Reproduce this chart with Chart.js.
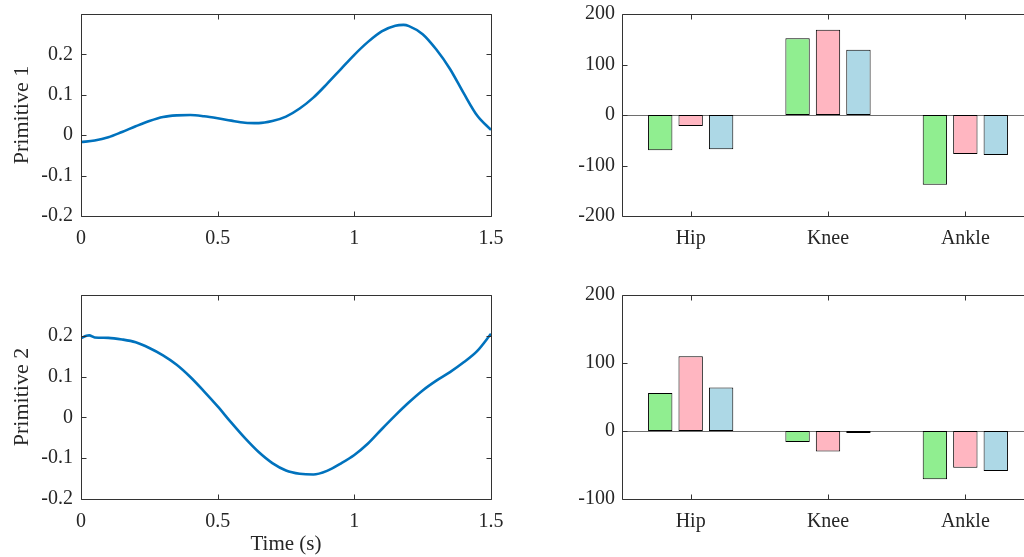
<!DOCTYPE html>
<html>
<head>
<meta charset="utf-8">
<script src="https://cdn.jsdelivr.net/npm/chart.js@4.4.1/dist/chart.umd.min.js"></script>
<style>
  html, body { margin: 0; padding: 0; background: #fff; overflow: hidden; width: 1024px; height: 557px; }
  .cell { position: absolute; overflow: hidden; }
  canvas { display: block; }
</style>
</head>
<body>
<div class="cell" style="left:0;top:0;width:512px;height:260px"><canvas id="p1Line" width="512" height="260"></canvas></div>
<div class="cell" style="left:0;top:280px;width:512px;height:277px"><canvas id="p2Line" width="512" height="277"></canvas></div>
<!-- the bar axes run on past the right edge of the page, so the cells clip them -->
<div class="cell" style="left:560px;top:0;width:464px;height:260px"><canvas id="p1Bar" width="490" height="260"></canvas></div>
<div class="cell" style="left:560px;top:280px;width:464px;height:277px"><canvas id="p2Bar" width="490" height="277"></canvas></div>
<script>
// ---------- data ----------
const timeP1 = [0, 0.05, 0.10, 0.15, 0.20, 0.25, 0.30, 0.35, 0.40, 0.45, 0.50, 0.55, 0.60, 0.65, 0.70, 0.75,
  0.80, 0.85, 0.90, 0.95, 1.00, 1.05, 1.10, 1.15, 1.18, 1.20, 1.25, 1.30, 1.35, 1.40, 1.45, 1.50];
const primitive1 = [-0.017, -0.013, -0.005, 0.008, 0.022, 0.035, 0.045, 0.049, 0.050, 0.047, 0.042, 0.036, 0.031, 0.030, 0.035, 0.046,
  0.066, 0.093, 0.127, 0.163, 0.199, 0.231, 0.257, 0.271, 0.273, 0.270, 0.250, 0.212, 0.164, 0.104, 0.048, 0.013];

const timeP2 = [0, 0.02, 0.03, 0.05, 0.10, 0.15, 0.20, 0.25, 0.30, 0.35, 0.40, 0.45, 0.50, 0.55, 0.60, 0.65, 0.70, 0.75,
  0.80, 0.85, 0.90, 0.95, 1.00, 1.05, 1.10, 1.15, 1.20, 1.25, 1.30, 1.35, 1.40, 1.45, 1.50];
const primitive2 = [0.194, 0.200, 0.201, 0.196, 0.195, 0.191, 0.184, 0.170, 0.152, 0.129, 0.099, 0.064, 0.027, -0.013, -0.051, -0.085, -0.112, -0.130,
  -0.138, -0.140, -0.131, -0.113, -0.092, -0.064, -0.029, 0.005, 0.037, 0.066, 0.090, 0.111, 0.135, 0.163, 0.205];

const joints = ['Hip', 'Knee', 'Ankle'];
// three weight sets per primitive
const p1Green = [-70, 152, -138];
const p1Pink  = [-22, 169, -77];
const p1Blue  = [-68, 129, -79];
const p2Green = [56, -16, -71];
const p2Pink  = [110, -30, -54];
const p2Blue  = [64, -3, -59];

const lineTicksX = [0, 0.5, 1, 1.5];

// ---------- style ----------
const FONT = 'Liberation Serif';
const TXT = '#262626';
const AXIS = '#333333';
const LINE_BLUE = '#0072BD';
const BAR_COLORS = ['#90EE90', '#FFB6C1', '#ADD8E6'];

// axes box with inward ticks on all four sides, taken from the scale extents
const boxPlugin = {
  id: 'box',
  afterDraw(chart) {
    const { ctx, scales } = chart;
    const x = scales.x, y = scales.y;
    const L = Math.round(x.left) + 0.5, R = Math.round(x.right) + 0.5;
    const T = Math.round(y.top) + 0.5, B = Math.round(y.bottom) + 0.5;
    const len = 5;
    ctx.save();
    ctx.strokeStyle = AXIS;
    ctx.lineWidth = 1;
    ctx.beginPath();
    ctx.moveTo(L, T); ctx.lineTo(R, T); ctx.lineTo(R, B); ctx.lineTo(L, B); ctx.closePath();
    x.ticks.forEach((t, i) => {
      const px = Math.round(x.getPixelForTick(i)) + 0.5;
      ctx.moveTo(px, B); ctx.lineTo(px, B - len);
      ctx.moveTo(px, T); ctx.lineTo(px, T + len);
    });
    y.ticks.forEach((t, i) => {
      const py = Math.round(y.getPixelForTick(i)) + 0.5;
      ctx.moveTo(L, py); ctx.lineTo(L + len, py);
      ctx.moveTo(R, py); ctx.lineTo(R - len, py);
    });
    ctx.stroke();
    ctx.restore();
  }
};

// bar baseline at y = 0 across the full axis width
const zeroLinePlugin = {
  id: 'zeroLine',
  beforeDatasetsDraw(chart) {
    const { ctx, scales } = chart;
    const py = Math.round(scales.y.getPixelForValue(0)) + 0.5;
    ctx.save();
    ctx.strokeStyle = '#6e6e6e';
    ctx.lineWidth = 1.2;
    ctx.beginPath();
    ctx.moveTo(scales.x.left, py);
    ctx.lineTo(scales.x.right, py);
    ctx.stroke();
    ctx.restore();
  }
};

// fixed axis size, no extra room for overhanging tick labels
function fixSize(prop, size) {
  return s => {
    s[prop] = size;
    s.paddingTop = 0; s.paddingBottom = 0; s.paddingLeft = 0; s.paddingRight = 0;
  };
}

function fmt(v) {
  const r = Math.round(v * 100) / 100;
  return r === 0 ? '0' : String(r);
}

function lineChart(id, xs, ys, label, withTime, pad) {
  const data = xs.map((x, i) => ({ x: x, y: ys[i] }));
  return new Chart(document.getElementById(id), {
    type: 'line',
    data: { datasets: [{ data: data, borderColor: LINE_BLUE, borderWidth: 2.6, pointRadius: 0,
      cubicInterpolationMode: 'monotone', fill: false }] },
    options: {
      responsive: false, animation: false, devicePixelRatio: 1,
      layout: { padding: pad },
      plugins: { legend: { display: false }, tooltip: { enabled: false } },
      scales: {
        x: {
          type: 'linear', min: 0, max: 1.5,
          afterBuildTicks: s => { s.ticks = lineTicksX.map(v => ({ value: v })); },
          afterFit: fixSize('height', withTime ? 58 : 44),
          grid: { display: false }, border: { display: false },
          ticks: { color: TXT, font: { family: FONT, size: 20 }, padding: 3, maxRotation: 0, callback: v => fmt(v) },
          title: { display: withTime, text: 'Time (s)', color: TXT, font: { family: FONT, size: 21 }, padding: { top: 0, bottom: 0 } }
        },
        y: {
          min: -0.2, max: 0.3,
          ticks: { stepSize: 0.1, color: TXT, font: { family: FONT, size: 20 }, padding: 8,
            callback: v => Math.abs(v - 0.3) < 1e-6 ? '' : fmt(v) },
          afterFit: fixSize('width', 81),
          grid: { display: false, drawTicks: false }, border: { display: false },
          title: { display: true, text: label, color: TXT, font: { family: FONT, size: 22 }, padding: { top: 9, bottom: 0 } }
        }
      }
    },
    plugins: [boxPlugin]
  });
}

function barChart(id, g, p, b, yMin, xHeight, pad) {
  const sets = [g, p, b].map((vals, i) => ({
    data: vals, backgroundColor: BAR_COLORS[i], borderColor: '#000', borderWidth: 1,
    borderSkipped: false, categoryPercentage: 0.665, barPercentage: 0.8
  }));
  return new Chart(document.getElementById(id), {
    type: 'bar',
    data: { labels: joints, datasets: sets },
    options: {
      responsive: false, animation: false, devicePixelRatio: 1,
      layout: { padding: pad },
      plugins: { legend: { display: false }, tooltip: { enabled: false } },
      scales: {
        x: {
          afterFit: fixSize('height', xHeight),
          grid: { display: false }, border: { display: false },
          ticks: { color: TXT, font: { family: FONT, size: 20 }, padding: 3 }
        },
        y: {
          min: yMin, max: 200,
          ticks: { stepSize: 100, color: TXT, font: { family: FONT, size: 20 }, padding: 7 },
          afterFit: fixSize('width', 62),
          grid: { display: false, drawTicks: false }, border: { display: false }
        }
      }
    },
    plugins: [zeroLinePlugin, boxPlugin]
  });
}

lineChart('p1Line', timeP1, primitive1, 'Primitive 1', false, { top: 14, right: 21, left: 0, bottom: 0 });
lineChart('p2Line', timeP2, primitive2, 'Primitive 2', true, { top: 15, right: 21, left: 0, bottom: 0 });
barChart('p1Bar', p1Green, p1Pink, p1Blue, -200, 44, { top: 14, right: 16, left: 0, bottom: 0 });
barChart('p2Bar', p2Green, p2Pink, p2Blue, -100, 58, { top: 15, right: 16, left: 0, bottom: 0 });
</script>
</body>
</html>
